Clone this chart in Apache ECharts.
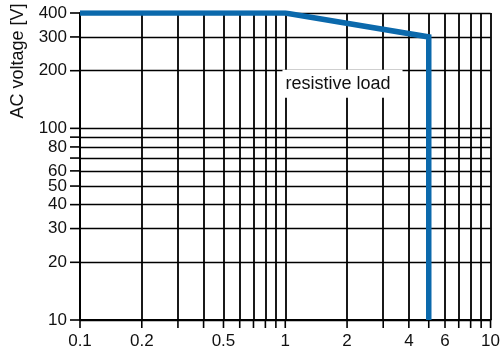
<!DOCTYPE html>
<html><head><meta charset="utf-8">
<script src="https://cdn.jsdelivr.net/npm/echarts@6/dist/echarts.min.js"></script>
<style>html,body{margin:0;padding:0;background:#fff}#c{width:503px;height:353px}</style>
</head><body><div id="c"></div>
<script>
const xGrid = [0.1,0.2,0.3,0.4,0.5,0.6,0.7,0.8,0.9,1,2,3,4,5,6,7,8,9,10];
const xLabels = [0.1,0.2,0.5,1,2,4,6,10];
const yGrid = [10,20,30,40,50,60,70,80,90,100,200,300,400];
const yLabels = [10,20,30,40,50,60,80,100,200,300,400];
const current = [0.1, 1, 5, 5];
const voltage = [400, 400, 300, 10];
const yName = 'AC voltage [V]';
const annotation = 'resistive load';
const annotationAt = [1.9, 171];

const font = 'Liberation Sans, Arial, Helvetica, sans-serif';
const chart = echarts.init(document.getElementById('c'), null, {renderer:'canvas'});
const xMin = 0.1, xMax = 10, yMin = 10, yMax = 400;
function tickItem(dir){
  return function(params, api){
    const p = api.coord([api.value(0), api.value(1)]);
    const s = dir === 'x'
      ? {x1:p[0], y1:p[1], x2:p[0], y2:p[1] + 8}
      : {x1:p[0] - 10, y1:p[1], x2:p[0], y2:p[1]};
    return {type:'line', shape:s, style:{stroke:'#000', lineWidth:1.6}};
  };
}
chart.setOption({
  animation:false,
  grid:{left:80, right:12, top:13, bottom:33},
  xAxis:{type:'log', logBase:10, min:xMin, max:xMax,
    axisLine:{show:true, lineStyle:{color:'#000', width:1.8}},
    axisTick:{show:false, customValues:xGrid},
    splitLine:{show:true, lineStyle:{color:'#000', width:1.8}},
    axisLabel:{customValues:xLabels, color:'#111', fontSize:17, fontFamily:font, margin:13,
      formatter:v=>String(+v.toPrecision(3))}
  },
  yAxis:{type:'log', logBase:10, min:yMin, max:yMax,
    axisLine:{show:true, lineStyle:{color:'#000', width:1.8}},
    axisTick:{show:false, customValues:yGrid},
    splitLine:{show:true, lineStyle:{color:'#000', width:1.4}},
    axisLabel:{customValues:yLabels, color:'#111', fontSize:17, fontFamily:font, margin:13,
      formatter:v=>String(+v.toPrecision(3))}
  },
  graphic:[
    {type:'text', x:18, y:61, rotation:Math.PI/2, z:10,
      style:{text:yName, fill:'#111', fontSize:18, fontFamily:font, align:'center', verticalAlign:'middle'}}
  ],
  series:[
    {type:'custom', clip:false, silent:true, data:xGrid.map(v=>[v, yMin]), renderItem:tickItem('x')},
    {type:'custom', clip:false, silent:true, data:yGrid.map(v=>[xMin, v]), renderItem:tickItem('y')},
    {
    type:'line', data:current.map((x,i)=>[x, voltage[i]]), symbol:'none',
    lineStyle:{color:'#0b69ac', width:5.5, cap:'butt', join:'miter'},
    z:5,
    markPoint:{
      symbol:'rect', symbolSize:0, silent:true,
      data:[{coord:annotationAt, label:{show:true, formatter:annotation, color:'#111', fontSize:18, fontFamily:font,
        backgroundColor:'#fff', padding:[5,12,5,3], position:'inside'}}]
    }
  }]
});
</script></body></html>
